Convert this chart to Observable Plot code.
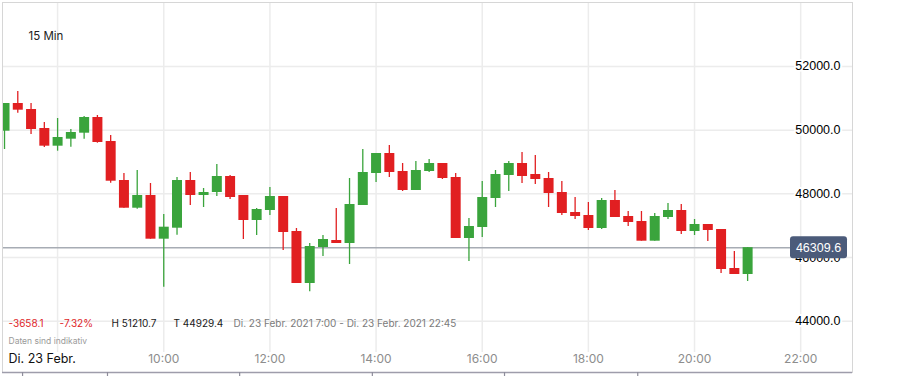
<!DOCTYPE html>
<html><head><meta charset="utf-8">
<script src="https://cdn.jsdelivr.net/npm/d3@7"></script>
<script src="https://cdn.jsdelivr.net/npm/@observablehq/plot@0.6"></script>
<style>
html,body{margin:0;padding:0;background:#fff;}
#chart{width:923px;height:376px;overflow:hidden;}
</style></head><body><div id="chart"></div>
<script>
// ---- data ----
const times = ["07:00","07:15","07:30","07:45","08:00","08:15","08:30","08:45","09:00","09:15","09:30","09:45",
  "10:00","10:15","10:30","10:45","11:00","11:15","11:30","11:45","12:00","12:15","12:30","12:45",
  "13:00","13:15","13:30","13:45","14:00","14:15","14:30","14:45","15:00","15:15","15:30","15:45",
  "16:00","16:15","16:30","16:45","17:00","17:15","17:30","17:45","18:00","18:15","18:30","18:45",
  "19:00","19:15","19:30","19:45","20:00","20:15","20:30","20:45","21:00"];
const opens = [49968,50838,50649,50053,49497,49717,49905,50398,49644,48419,47549,47948,
  46576,46921,48419,47948,48042,48545,47948,47163,47477,47917,46818,45184,
  46315,46535,46440,47634,48639,49267,48702,48105,48702,48953,48514,46598,
  46943,47854,48577,48953,48608,48482,48042,47414,47320,46912,47791,47289,
  47132,46513,47257,47477,46818,47037,46880,45655,45467];
const highs = [50838,51211,50838,50241,50367,50021,50430,50461,49833,48639,48733,48325,
  47351,48514,48671,48168,48922,48577,47948,47540,48199,47917,46912,46440,
  46692,47540,48482,49393,49267,49519,48953,49016,49079,48953,48639,47226,
  48388,48733,49016,49299,49205,48671,48388,47885,47729,47854,48105,47446,
  47446,47383,47697,47666,47195,47037,46880,46189,46310];
const lows = [49393,50533,49864,49456,49340,49465,49717,49591,48335,47549,47518,46576,
  45068,46701,47634,47571,47917,47823,46566,46692,47320,46221,45184,44929,
  46032,46440,45781,47634,48357,48514,48074,48105,48671,48451,46598,45875,
  46629,47571,48074,48325,48294,47571,47320,47195,46849,46880,47257,46974,
  46513,46513,47195,46723,46692,46503,45498,45467,45247];
const closes = [50838,50628,50021,49497,49770,49927,50398,49613,48397,47549,47948,46576,
  46953,48419,47948,48042,48545,47885,47163,47509,47917,46786,45184,46346,
  46566,46440,47666,48671,49267,48671,48105,48733,48953,48482,46598,46974,
  47885,48608,48953,48545,48451,48011,47383,47289,46912,47791,47257,47100,
  46513,47289,47477,46818,47037,46849,45624,45467,46310];
const lastPrice = 46309.6;
const yTicks = [44000, 46000, 48000, 50000, 52000];
const gridHours = [8, 10, 12, 14, 16, 18, 20, 22];
const xTickHours = [10, 12, 14, 16, 18, 20, 22];
const xTickLabels = ["10:00", "12:00", "14:00", "16:00", "18:00", "20:00", "22:00"];
const dateLabel = "Di. 23 Febr.";
const periodLabel = "15 Min";
const infoLabels = ["-3658.1", "-7.32%", "H 51210.7", "T 44929.4", "Di. 23 Febr. 2021 7:00 - Di. 23 Febr. 2021 22:45"];
const infoColors = ["#e0262a", "#e0262a", "#1a1a1a", "#1a1a1a", "#7b7b7b"];
const noteLabel = "Daten sind indikativ";
const navTickHours = [7.34, 8.94, 11.43, 13.93, 16.42, 18.93];

// ---- build ----
const toHour = s => { const [h, m] = s.split(":").map(Number); return h + m / 60; };
const candles = times.map((t, i) => ({
  t: toHour(t), open: opens[i], high: highs[i], low: lows[i], close: closes[i],
  up: closes[i] >= opens[i]
}));
const GREEN = "#3aa43c", RED = "#e11f21";
const font = "Inter, 'Liberation Sans', Arial, sans-serif";
const numFont = "'Liberation Sans', Arial, sans-serif";
const xDomain = [6.962, 22.976];
const yDomain = [42389, 54010];
const gridBottom = 43017;
const infoOffsets = [6, 57, 109, 171, 231];

const plot = Plot.plot({
  width: 923, height: 376,
  marginLeft: 2, marginRight: 71, marginTop: 2, marginBottom: 4,
  x: {domain: xDomain, axis: null},
  y: {domain: yDomain, axis: null},
  style: {fontFamily: font, background: "white", overflow: "visible"},
  marks: [
    Plot.ruleY(yTicks, {stroke: "#ececec", strokeWidth: 1.5}),
    Plot.ruleX(gridHours, {y1: gridBottom, y2: yDomain[1], stroke: "#ececec", strokeWidth: 1.5}),
    Plot.ruleY([lastPrice], {x1: xDomain[0], x2: 21.81, stroke: "#a7acb4", strokeWidth: 1.5}),
    Plot.ruleX(candles, {x: "t", y1: "low", y2: "high", stroke: d => d.up ? GREEN : RED, strokeWidth: 1.3, clip: true}),
    Plot.ruleX(candles, {x: "t", y1: "open", y2: d => (Math.abs(d.close - d.open) < 40 ? d.open + (d.up ? 40 : -40) : d.close),
      stroke: d => d.up ? GREEN : RED, strokeWidth: 10, strokeLinecap: "butt", clip: true}),
    Plot.text(yTicks, {x: xDomain[1], y: d => d, dx: -12, text: d => d.toFixed(1), textAnchor: "end",
      fill: "#000", fontSize: 12.5, fontFamily: numFont, stroke: "white", strokeWidth: 4, paintOrder: "stroke"}),
    Plot.text(xTickHours, {x: d => d, frameAnchor: "bottom", dy: -10, text: (d, i) => xTickLabels[i],
      fill: "#8d8d8d", fontSize: 12}),
    Plot.text([dateLabel], {frameAnchor: "bottom-left", dx: 6, dy: -10, textAnchor: "start", fill: "#111", fontSize: 12.5}),
    Plot.text([periodLabel], {frameAnchor: "top-left", dx: 26, dy: 29, textAnchor: "start", fill: "#222", fontSize: 11.5}),
    ...infoLabels.map((s, i) => Plot.text([s], {frameAnchor: "bottom-left", dx: infoOffsets[i], dy: -46,
      textAnchor: "start", fill: infoColors[i], fontSize: 10})),
    Plot.text([noteLabel], {frameAnchor: "bottom-left", dx: 6, dy: -28.5, textAnchor: "start", fill: "#9a9a9a", fontSize: 8.5}),
    Plot.frame({stroke: "#d6d6d6"}),
    Plot.ruleY([yDomain[0]], {stroke: "#9e9dab", strokeWidth: 1.5}),
    Plot.ruleX(navTickHours, {y1: yDomain[0], y2: 42250, stroke: "#8e8d9b", strokeWidth: 1.2})
  ]
});

// price tag on the right axis
const svg = d3.select(plot);
const py = plot.scale("y").apply(lastPrice);
const g = svg.append("g");
g.append("rect").attr("x", 790).attr("y", py - 11).attr("width", 57).attr("height", 22).attr("rx", 3).attr("fill", "#4b5b7a");
g.append("text").attr("x", 818.5).attr("y", py).attr("dy", "0.35em").attr("text-anchor", "middle")
  .attr("fill", "white").attr("font-size", 12.5).attr("font-family", numFont).text(lastPrice.toFixed(1));

document.getElementById("chart").appendChild(plot);
</script>
</body></html>
